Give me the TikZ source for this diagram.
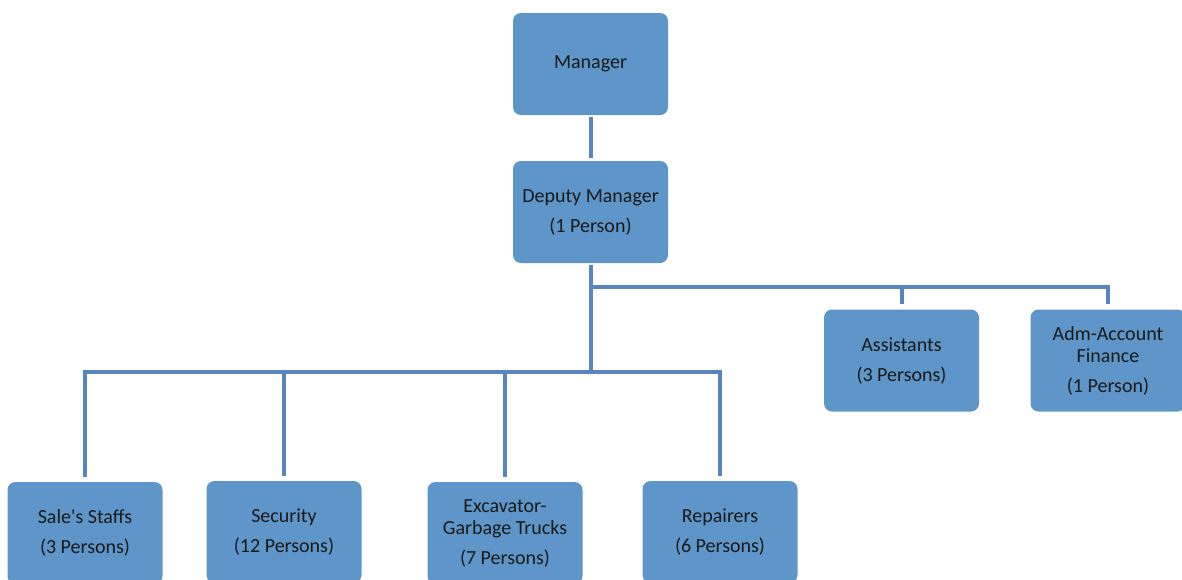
\documentclass[tikz,border=0pt]{standalone}
\usepackage{fontspec}
\setmainfont{Carlito}
\usepackage{xcolor}
\usepackage{tikz}

\definecolor{boxfill}{RGB}{95,150,201}
\definecolor{linkcol}{RGB}{86,134,189}

\tikzset{
  unit/.style={draw=none, fill=boxfill, rounded corners=8pt,
    minimum width=155pt, minimum height=102pt, inner sep=0pt,
    align=center, font=\fontsize{20}{22}\selectfont, text=black!90},
  link/.style={draw=linkcol, line width=4pt},
}

\begin{document}
\begin{tikzpicture}[x=1pt, y=-1pt]
            \useasboundingbox (0,0) rectangle (1182,579);

            \node[unit] (mgr) at (590.5, 64) {Manager};
            \node[unit] (dep) at (590.5, 212) {Deputy Manager\\[8pt](1 Person)};
            \node[unit] (asst) at (901.5, 360.5) {Assistants\\[8pt](3 Persons)};
            \node[unit] (adm) at (1108, 360.5) {Adm-Account\\Finance\\[8pt](1 Person)};
            \node[unit] (sale) at (85, 533) {Sale\textquotesingle s Staffs\\[8pt](3 Persons)};
            \node[unit] (sec) at (284, 532) {Security\\[8pt](12 Persons)};
            \node[unit] (exc) at (505, 533) {Excavator-\\Garbage Trucks\\[8pt](7 Persons)};
            \node[unit] (rep) at (720, 532) {Repairers\\[8pt](6 Persons)};

            \coordinate (topbus) at (590.5, 287);
            \coordinate (lowbus) at (590.5, 372);

            \draw[link, shorten <=2pt, shorten >=3pt] (mgr) -- (dep);
            \draw[link, shorten <=2pt] (dep.south) -- (lowbus);
            \draw[link, shorten >=5pt] (topbus) -| (asst.north);
            \draw[link, shorten >=5pt] (topbus) -| (adm.north);
            \draw[link, shorten >=5pt] (lowbus) -| (sale.north);
            \draw[link, shorten >=5pt] (lowbus) -| (sec.north);
            \draw[link, shorten >=5pt] (lowbus) -| (exc.north);
            \draw[link, shorten >=5pt] (lowbus) -| (rep.north);

\end{tikzpicture}
\end{document}
